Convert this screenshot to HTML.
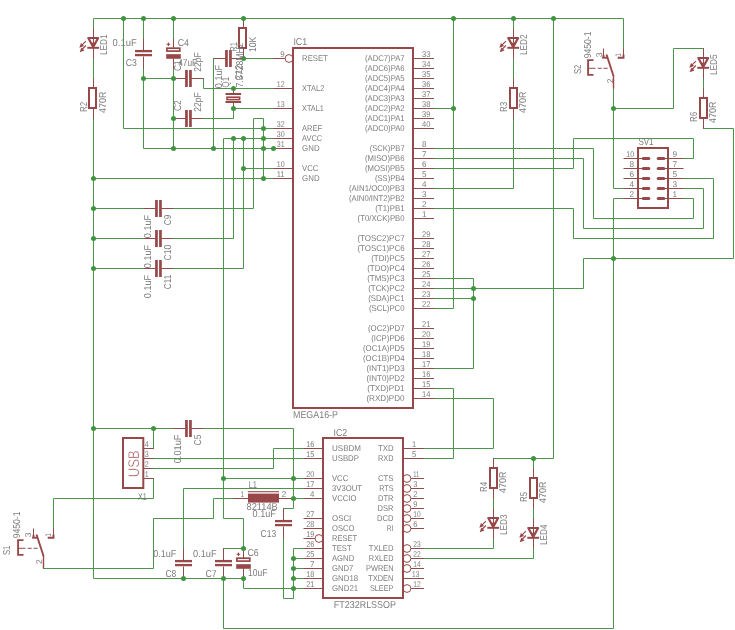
<!DOCTYPE html>
<html><head><meta charset="utf-8"><title>Schematic</title>
<style>html,body{margin:0;padding:0;background:#fff;}svg{display:block;}text{font-family:"Liberation Sans",sans-serif;}</style></head>
<body>
<svg width="735" height="630" viewBox="0 0 735 630">
<rect width="735" height="630" fill="#ffffff"/>
<g>
<g fill="none" stroke="#4c944c" stroke-width="1" stroke-linejoin="miter" stroke-linecap="square">
<polyline points="93.5,28.5 93.5,18.5 623.5,18.5 623.5,48.5"/>
<polyline points="93.5,58.5 93.5,78.5"/>
<polyline points="93.5,118.5 93.5,578.5 243.5,578.5"/>
<polyline points="123.5,18.5 123.5,128.5 273.5,128.5"/>
<polyline points="143.5,18.5 143.5,38.5"/>
<polyline points="143.5,68.5 143.5,148.5 273.5,148.5"/>
<polyline points="173.5,18.5 173.5,38.5"/>
<polyline points="173.5,68.5 173.5,148.5"/>
<polyline points="143.5,78.5 173.5,78.5"/>
<polyline points="203.5,78.5 203.5,88.5 273.5,88.5"/>
<polyline points="203.5,118.5 233.5,118.5 233.5,108.5 273.5,108.5"/>
<polyline points="213.5,58.5 213.5,148.5"/>
<polyline points="243.5,58.5 273.5,58.5"/>
<polyline points="173.5,208.5 253.5,208.5 253.5,118.5 263.5,118.5 263.5,178.5"/>
<polyline points="93.5,178.5 273.5,178.5"/>
<polyline points="93.5,208.5 143.5,208.5"/>
<polyline points="93.5,238.5 143.5,238.5"/>
<polyline points="93.5,268.5 143.5,268.5"/>
<polyline points="173.5,238.5 233.5,238.5 233.5,138.5"/>
<polyline points="173.5,268.5 243.5,268.5 243.5,138.5"/>
<polyline points="243.5,168.5 273.5,168.5"/>
<polyline points="273.5,138.5 223.5,138.5 223.5,518.5 243.5,518.5 243.5,548.5 223.5,548.5"/>
<polyline points="433.5,108.5 453.5,108.5"/>
<polyline points="453.5,18.5 453.5,308.5 433.5,308.5"/>
<polyline points="513.5,18.5 513.5,28.5"/>
<polyline points="513.5,58.5 513.5,78.5"/>
<polyline points="513.5,118.5 513.5,188.5 433.5,188.5"/>
<polyline points="553.5,18.5 553.5,458.5 493.5,458.5"/>
<polyline points="533.5,458.5 533.5,468.5"/>
<polyline points="433.5,148.5 593.5,148.5 593.5,218.5 693.5,218.5 693.5,198.5 683.5,198.5"/>
<polyline points="433.5,158.5 583.5,158.5 583.5,228.5 703.5,228.5 703.5,188.5 683.5,188.5"/>
<polyline points="433.5,168.5 573.5,168.5 573.5,138.5 693.5,138.5 693.5,158.5 683.5,158.5"/>
<polyline points="433.5,208.5 573.5,208.5 573.5,238.5 713.5,238.5 713.5,178.5 683.5,178.5"/>
<polyline points="613.5,88.5 613.5,188.5 623.5,188.5"/>
<polyline points="613.5,108.5 673.5,108.5 673.5,48.5 703.5,48.5"/>
<polyline points="703.5,78.5 703.5,88.5"/>
<polyline points="703.5,128.5 733.5,128.5 733.5,258.5 583.5,258.5 583.5,288.5 433.5,288.5"/>
<polyline points="623.5,198.5 613.5,198.5 613.5,628.5 223.5,628.5 223.5,578.5"/>
<polyline points="433.5,278.5 473.5,278.5 473.5,368.5 433.5,368.5"/>
<polyline points="433.5,298.5 473.5,298.5"/>
<polyline points="433.5,388.5 453.5,388.5 453.5,458.5 423.5,458.5"/>
<polyline points="433.5,398.5 493.5,398.5 493.5,448.5 423.5,448.5"/>
<polyline points="493.5,498.5 493.5,508.5"/>
<polyline points="493.5,538.5 493.5,548.5 423.5,548.5"/>
<polyline points="533.5,508.5 533.5,518.5"/>
<polyline points="533.5,548.5 533.5,558.5 423.5,558.5"/>
<polyline points="93.5,428.5 173.5,428.5"/>
<polyline points="153.5,428.5 153.5,448.5"/>
<polyline points="203.5,428.5 293.5,428.5 293.5,508.5 283.5,508.5"/>
<polyline points="153.5,458.5 303.5,458.5"/>
<polyline points="153.5,468.5 273.5,468.5 273.5,448.5 303.5,448.5"/>
<polyline points="153.5,478.5 153.5,498.5 53.5,498.5 53.5,528.5"/>
<polyline points="223.5,478.5 303.5,478.5"/>
<polyline points="303.5,488.5 183.5,488.5 183.5,548.5"/>
<polyline points="303.5,498.5 293.5,498.5"/>
<polyline points="233.5,498.5 213.5,498.5 213.5,518.5 153.5,518.5 153.5,568.5 43.5,568.5"/>
<polyline points="303.5,548.5 293.5,548.5 293.5,598.5 283.5,598.5 283.5,538.5"/>
<polyline points="303.5,558.5 293.5,558.5"/>
<polyline points="303.5,568.5 293.5,568.5"/>
<polyline points="303.5,578.5 293.5,578.5"/>
<polyline points="303.5,588.5 243.5,588.5 243.5,578.5"/>
</g>
<g stroke="#984848" fill="none">
<line x1="93.5" y1="28.5" x2="93.5" y2="58.5" stroke-width="1" stroke="#8e4c4c"/>
<polygon points="88.3,38 98.1,38 93.2,47.1" stroke-width="2.2" fill="none" stroke-linejoin="round"/>
<line x1="87.3" y1="47.8" x2="99.1" y2="47.8" stroke-width="2"/>
<polygon points="90.2,42.7 96.2,42.7 93.2,47.5" stroke="none" fill="#984848"/>
<line x1="85.9" y1="41.1" x2="80.9" y2="46.1" stroke-width="1.2"/>
<line x1="85.9" y1="45.5" x2="80.9" y2="50.7" stroke-width="1.2"/>
<polygon points="79.3,47.7 81,42.9 84.1,46" stroke="none" fill="#984848"/>
<polygon points="79.7,52.3 81.4,47.5 84.5,50.6" stroke="none" fill="#984848"/>
<line x1="513.5" y1="28.5" x2="513.5" y2="58.5" stroke-width="1" stroke="#8e4c4c"/>
<polygon points="508.3,38 518.1,38 513.2,47.1" stroke-width="2.2" fill="none" stroke-linejoin="round"/>
<line x1="507.3" y1="47.8" x2="519.1" y2="47.8" stroke-width="2"/>
<polygon points="510.2,42.7 516.2,42.7 513.2,47.5" stroke="none" fill="#984848"/>
<line x1="505.9" y1="41.1" x2="500.9" y2="46.1" stroke-width="1.2"/>
<line x1="505.9" y1="45.5" x2="500.9" y2="50.7" stroke-width="1.2"/>
<polygon points="499.3,47.7 501,42.9 504.1,46" stroke="none" fill="#984848"/>
<polygon points="499.7,52.3 501.4,47.5 504.5,50.6" stroke="none" fill="#984848"/>
<line x1="703.5" y1="48.5" x2="703.5" y2="78.5" stroke-width="1" stroke="#8e4c4c"/>
<polygon points="698.3,58 708.1,58 703.2,67.1" stroke-width="2.2" fill="none" stroke-linejoin="round"/>
<line x1="697.3" y1="67.8" x2="709.1" y2="67.8" stroke-width="2"/>
<polygon points="700.2,62.7 706.2,62.7 703.2,67.5" stroke="none" fill="#984848"/>
<line x1="695.9" y1="61.1" x2="690.9" y2="66.1" stroke-width="1.2"/>
<line x1="695.9" y1="65.5" x2="690.9" y2="70.7" stroke-width="1.2"/>
<polygon points="689.3,67.7 691,62.9 694.1,66" stroke="none" fill="#984848"/>
<polygon points="689.7,72.3 691.4,67.5 694.5,70.6" stroke="none" fill="#984848"/>
<line x1="493.5" y1="508.5" x2="493.5" y2="538.5" stroke-width="1" stroke="#8e4c4c"/>
<polygon points="488.3,518 498.1,518 493.2,527.1" stroke-width="2.2" fill="none" stroke-linejoin="round"/>
<line x1="487.3" y1="527.8" x2="499.1" y2="527.8" stroke-width="2"/>
<polygon points="490.2,522.7 496.2,522.7 493.2,527.5" stroke="none" fill="#984848"/>
<line x1="485.9" y1="521.1" x2="480.9" y2="526.1" stroke-width="1.2"/>
<line x1="485.9" y1="525.5" x2="480.9" y2="530.7" stroke-width="1.2"/>
<polygon points="479.3,527.7 481,522.9 484.1,526" stroke="none" fill="#984848"/>
<polygon points="479.7,532.3 481.4,527.5 484.5,530.6" stroke="none" fill="#984848"/>
<line x1="533.5" y1="518.5" x2="533.5" y2="548.5" stroke-width="1" stroke="#8e4c4c"/>
<polygon points="528.3,528 538.1,528 533.2,537.1" stroke-width="2.2" fill="none" stroke-linejoin="round"/>
<line x1="527.3" y1="537.8" x2="539.1" y2="537.8" stroke-width="2"/>
<polygon points="530.2,532.7 536.2,532.7 533.2,537.5" stroke="none" fill="#984848"/>
<line x1="525.9" y1="531.1" x2="520.9" y2="536.1" stroke-width="1.2"/>
<line x1="525.9" y1="535.5" x2="520.9" y2="540.7" stroke-width="1.2"/>
<polygon points="519.3,537.7 521,532.9 524.1,536" stroke="none" fill="#984848"/>
<polygon points="519.7,542.3 521.4,537.5 524.5,540.6" stroke="none" fill="#984848"/>
<line x1="93.5" y1="78.5" x2="93.5" y2="88.5" stroke-width="1" stroke="#8e4c4c"/>
<line x1="93.5" y1="108.5" x2="93.5" y2="118.5" stroke-width="1" stroke="#8e4c4c"/>
<rect x="89" y="88" width="7" height="20" stroke-width="2" fill="none"/>
<line x1="243.5" y1="18.5" x2="243.5" y2="28.5" stroke-width="1" stroke="#8e4c4c"/>
<line x1="243.5" y1="48.5" x2="243.5" y2="58.5" stroke-width="1" stroke="#8e4c4c"/>
<rect x="239" y="28" width="7" height="20" stroke-width="2" fill="none"/>
<line x1="513.5" y1="78.5" x2="513.5" y2="88.5" stroke-width="1" stroke="#8e4c4c"/>
<line x1="513.5" y1="108.5" x2="513.5" y2="118.5" stroke-width="1" stroke="#8e4c4c"/>
<rect x="510" y="88" width="7" height="20" stroke-width="2" fill="none"/>
<line x1="703.5" y1="88.5" x2="703.5" y2="98.5" stroke-width="1" stroke="#8e4c4c"/>
<line x1="703.5" y1="118.5" x2="703.5" y2="128.5" stroke-width="1" stroke="#8e4c4c"/>
<rect x="700" y="98" width="7" height="20" stroke-width="2" fill="none"/>
<line x1="493.5" y1="458.5" x2="493.5" y2="468.5" stroke-width="1" stroke="#8e4c4c"/>
<line x1="493.5" y1="488.5" x2="493.5" y2="498.5" stroke-width="1" stroke="#8e4c4c"/>
<rect x="490" y="468" width="7" height="20" stroke-width="2" fill="none"/>
<line x1="533.5" y1="468.5" x2="533.5" y2="478.5" stroke-width="1" stroke="#8e4c4c"/>
<line x1="533.5" y1="498.5" x2="533.5" y2="508.5" stroke-width="1" stroke="#8e4c4c"/>
<rect x="530" y="478" width="7" height="20" stroke-width="2" fill="none"/>
<line x1="143.5" y1="38.5" x2="143.5" y2="50.5" stroke-width="1" stroke="#8e4c4c"/>
<line x1="143.5" y1="56.5" x2="143.5" y2="68.5" stroke-width="1" stroke="#8e4c4c"/>
<rect x="135" y="49.95" width="17" height="2.3" stroke="none" fill="#984848"/>
<rect x="135" y="53.95" width="17" height="2.3" stroke="none" fill="#984848"/>
<line x1="173.5" y1="38.5" x2="173.5" y2="48.5" stroke-width="1" stroke="#8e4c4c"/>
<line x1="173.5" y1="58.5" x2="173.5" y2="68.5" stroke-width="1" stroke="#8e4c4c"/>
<rect x="166.9" y="48.2" width="12.9" height="2.9" stroke-width="1.7" fill="none"/>
<rect x="166.2" y="54.2" width="14.6" height="4.6" stroke="none" fill="#984848"/>
<line x1="166.6" y1="44.3" x2="170.2" y2="44.3" stroke-width="1.1"/>
<line x1="168.4" y1="42.5" x2="168.4" y2="46.1" stroke-width="1.1"/>
<line x1="173.5" y1="78.5" x2="185.5" y2="78.5" stroke-width="1" stroke="#8e4c4c"/>
<line x1="191.5" y1="78.5" x2="203.5" y2="78.5" stroke-width="1" stroke="#8e4c4c"/>
<rect x="185.1" y="70" width="2.7" height="17" stroke="none" fill="#984848"/>
<rect x="189.1" y="70" width="2.7" height="17" stroke="none" fill="#984848"/>
<line x1="173.5" y1="118.5" x2="185.5" y2="118.5" stroke-width="1" stroke="#8e4c4c"/>
<line x1="191.5" y1="118.5" x2="203.5" y2="118.5" stroke-width="1" stroke="#8e4c4c"/>
<rect x="185.1" y="110" width="2.7" height="17" stroke="none" fill="#984848"/>
<rect x="189.1" y="110" width="2.7" height="17" stroke="none" fill="#984848"/>
<line x1="213.5" y1="58.5" x2="225.5" y2="58.5" stroke-width="1" stroke="#8e4c4c"/>
<line x1="231.5" y1="58.5" x2="243.5" y2="58.5" stroke-width="1" stroke="#8e4c4c"/>
<rect x="225.1" y="50" width="2.7" height="17" stroke="none" fill="#984848"/>
<rect x="229.1" y="50" width="2.7" height="17" stroke="none" fill="#984848"/>
<line x1="143.5" y1="208.5" x2="155.5" y2="208.5" stroke-width="1" stroke="#8e4c4c"/>
<line x1="161.5" y1="208.5" x2="173.5" y2="208.5" stroke-width="1" stroke="#8e4c4c"/>
<rect x="155.1" y="200" width="2.7" height="17" stroke="none" fill="#984848"/>
<rect x="159.1" y="200" width="2.7" height="17" stroke="none" fill="#984848"/>
<line x1="143.5" y1="238.5" x2="155.5" y2="238.5" stroke-width="1" stroke="#8e4c4c"/>
<line x1="161.5" y1="238.5" x2="173.5" y2="238.5" stroke-width="1" stroke="#8e4c4c"/>
<rect x="155.1" y="230" width="2.7" height="17" stroke="none" fill="#984848"/>
<rect x="159.1" y="230" width="2.7" height="17" stroke="none" fill="#984848"/>
<line x1="143.5" y1="268.5" x2="155.5" y2="268.5" stroke-width="1" stroke="#8e4c4c"/>
<line x1="161.5" y1="268.5" x2="173.5" y2="268.5" stroke-width="1" stroke="#8e4c4c"/>
<rect x="155.1" y="260" width="2.7" height="17" stroke="none" fill="#984848"/>
<rect x="159.1" y="260" width="2.7" height="17" stroke="none" fill="#984848"/>
<line x1="173.5" y1="428.5" x2="185.5" y2="428.5" stroke-width="1" stroke="#8e4c4c"/>
<line x1="191.5" y1="428.5" x2="203.5" y2="428.5" stroke-width="1" stroke="#8e4c4c"/>
<rect x="185.1" y="420" width="2.7" height="17" stroke="none" fill="#984848"/>
<rect x="189.1" y="420" width="2.7" height="17" stroke="none" fill="#984848"/>
<line x1="183.5" y1="548.5" x2="183.5" y2="560.5" stroke-width="1" stroke="#8e4c4c"/>
<line x1="183.5" y1="566.5" x2="183.5" y2="578.5" stroke-width="1" stroke="#8e4c4c"/>
<rect x="175" y="559.95" width="17" height="2.3" stroke="none" fill="#984848"/>
<rect x="175" y="563.95" width="17" height="2.3" stroke="none" fill="#984848"/>
<line x1="223.5" y1="548.5" x2="223.5" y2="560.5" stroke-width="1" stroke="#8e4c4c"/>
<line x1="223.5" y1="566.5" x2="223.5" y2="578.5" stroke-width="1" stroke="#8e4c4c"/>
<rect x="215" y="559.95" width="17" height="2.3" stroke="none" fill="#984848"/>
<rect x="215" y="563.95" width="17" height="2.3" stroke="none" fill="#984848"/>
<line x1="243.5" y1="548.5" x2="243.5" y2="558.5" stroke-width="1" stroke="#8e4c4c"/>
<line x1="243.5" y1="568.5" x2="243.5" y2="578.5" stroke-width="1" stroke="#8e4c4c"/>
<rect x="236.9" y="558.2" width="12.9" height="2.9" stroke-width="1.7" fill="none"/>
<rect x="236.2" y="564.2" width="14.6" height="4.6" stroke="none" fill="#984848"/>
<line x1="236.6" y1="554.3" x2="240.2" y2="554.3" stroke-width="1.1"/>
<line x1="238.4" y1="552.5" x2="238.4" y2="556.1" stroke-width="1.1"/>
<line x1="283.5" y1="508.5" x2="283.5" y2="520.5" stroke-width="1" stroke="#8e4c4c"/>
<line x1="283.5" y1="526.5" x2="283.5" y2="538.5" stroke-width="1" stroke="#8e4c4c"/>
<rect x="275" y="519.95" width="17" height="2.3" stroke="none" fill="#984848"/>
<rect x="275" y="523.95" width="17" height="2.3" stroke="none" fill="#984848"/>
<line x1="233.5" y1="88.5" x2="233.5" y2="94" stroke-width="1" stroke="#8e4c4c"/>
<line x1="233.5" y1="102" x2="233.5" y2="108.5" stroke-width="1" stroke="#8e4c4c"/>
<line x1="225.5" y1="94" x2="241.1" y2="94" stroke-width="2"/>
<line x1="225.5" y1="102" x2="241.1" y2="102" stroke-width="2"/>
<rect x="227" y="97.2" width="12.6" height="2.4" stroke-width="1.6" fill="none"/>
<line x1="623.5" y1="48.5" x2="623.5" y2="55.5" stroke-width="1" stroke="#8e4c4c"/>
<polyline points="623.5,54.5 623.5,57.7 617.7,57.7" stroke-width="1.9" fill="none" stroke-linejoin="miter"/>
<line x1="603.5" y1="48.5" x2="603.5" y2="55.5" stroke-width="1" stroke="#8e4c4c"/>
<polyline points="603.5,54.7 603.5,57.7" stroke-width="1.9" fill="none" stroke-linejoin="miter"/>
<line x1="602.1" y1="57.7" x2="607.7" y2="57.7" stroke-width="1.9"/>
<line x1="606.5" y1="54.5" x2="613.5" y2="76" stroke-width="1.9"/>
<line x1="613.5" y1="75.5" x2="613.5" y2="88.5" stroke-width="1.4"/>
<polyline points="593.5,60.1 588.1,60.1 588.1,74.9 593.5,74.9" stroke-width="1.9" fill="none" stroke-linejoin="miter"/>
<line x1="588.5" y1="68.3" x2="595.5" y2="68.3" stroke-width="1" stroke="#8e4c4c"/>
<line x1="597.7" y1="68.3" x2="601.7" y2="68.3" stroke-width="1" stroke="#8e4c4c"/>
<line x1="603.5" y1="68.3" x2="607.7" y2="68.3" stroke-width="1" stroke="#8e4c4c"/>
<line x1="53.5" y1="528.5" x2="53.5" y2="535.5" stroke-width="1" stroke="#8e4c4c"/>
<polyline points="53.5,534.5 53.5,537.7 47.7,537.7" stroke-width="1.9" fill="none" stroke-linejoin="miter"/>
<line x1="33.5" y1="528.5" x2="33.5" y2="535.5" stroke-width="1" stroke="#8e4c4c"/>
<polyline points="33.5,534.7 33.5,537.7" stroke-width="1.9" fill="none" stroke-linejoin="miter"/>
<line x1="32.1" y1="537.7" x2="37.7" y2="537.7" stroke-width="1.9"/>
<line x1="36.5" y1="534.5" x2="43.5" y2="556" stroke-width="1.9"/>
<line x1="43.5" y1="555.5" x2="43.5" y2="568.5" stroke-width="1.4"/>
<polyline points="23.5,540.1 18.1,540.1 18.1,554.9 23.5,554.9" stroke-width="1.9" fill="none" stroke-linejoin="miter"/>
<line x1="18.5" y1="548.3" x2="25.5" y2="548.3" stroke-width="1" stroke="#8e4c4c"/>
<line x1="27.7" y1="548.3" x2="31.7" y2="548.3" stroke-width="1" stroke="#8e4c4c"/>
<line x1="33.5" y1="548.3" x2="37.7" y2="548.3" stroke-width="1" stroke="#8e4c4c"/>
<line x1="233.5" y1="498.5" x2="248.5" y2="498.5" stroke-width="1" stroke="#8e4c4c"/>
<line x1="278.5" y1="498.5" x2="293.5" y2="498.5" stroke-width="1" stroke="#8e4c4c"/>
<rect x="248" y="493.6" width="31" height="9" stroke="none" fill="#984848"/>
<line x1="247.8" y1="491.7" x2="279" y2="491.7" stroke-width="1.1"/>
<rect x="123" y="438" width="20.3" height="50" stroke-width="2" fill="none"/>
<line x1="143.5" y1="448.5" x2="153.5" y2="448.5" stroke-width="1" stroke="#8e4c4c"/>
<line x1="143.5" y1="458.5" x2="153.5" y2="458.5" stroke-width="1" stroke="#8e4c4c"/>
<line x1="143.5" y1="468.5" x2="153.5" y2="468.5" stroke-width="1" stroke="#8e4c4c"/>
<line x1="143.5" y1="478.5" x2="153.5" y2="478.5" stroke-width="1" stroke="#8e4c4c"/>
<rect x="638" y="148" width="30" height="60" stroke-width="2" fill="none"/>
<line x1="623.5" y1="158.5" x2="643.5" y2="158.5" stroke-width="1" stroke="#8e4c4c"/>
<line x1="663.5" y1="158.5" x2="683.5" y2="158.5" stroke-width="1" stroke="#8e4c4c"/>
<line x1="643.2" y1="158.5" x2="648.8" y2="158.5" stroke-width="3" stroke-linecap="round"/>
<line x1="658.2" y1="158.5" x2="663.8" y2="158.5" stroke-width="3" stroke-linecap="round"/>
<line x1="623.5" y1="168.5" x2="643.5" y2="168.5" stroke-width="1" stroke="#8e4c4c"/>
<line x1="663.5" y1="168.5" x2="683.5" y2="168.5" stroke-width="1" stroke="#8e4c4c"/>
<line x1="643.2" y1="168.5" x2="648.8" y2="168.5" stroke-width="3" stroke-linecap="round"/>
<line x1="658.2" y1="168.5" x2="663.8" y2="168.5" stroke-width="3" stroke-linecap="round"/>
<line x1="623.5" y1="178.5" x2="643.5" y2="178.5" stroke-width="1" stroke="#8e4c4c"/>
<line x1="663.5" y1="178.5" x2="683.5" y2="178.5" stroke-width="1" stroke="#8e4c4c"/>
<line x1="643.2" y1="178.5" x2="648.8" y2="178.5" stroke-width="3" stroke-linecap="round"/>
<line x1="658.2" y1="178.5" x2="663.8" y2="178.5" stroke-width="3" stroke-linecap="round"/>
<line x1="623.5" y1="188.5" x2="643.5" y2="188.5" stroke-width="1" stroke="#8e4c4c"/>
<line x1="663.5" y1="188.5" x2="683.5" y2="188.5" stroke-width="1" stroke="#8e4c4c"/>
<line x1="643.2" y1="188.5" x2="648.8" y2="188.5" stroke-width="3" stroke-linecap="round"/>
<line x1="658.2" y1="188.5" x2="663.8" y2="188.5" stroke-width="3" stroke-linecap="round"/>
<line x1="623.5" y1="198.5" x2="643.5" y2="198.5" stroke-width="1" stroke="#8e4c4c"/>
<line x1="663.5" y1="198.5" x2="683.5" y2="198.5" stroke-width="1" stroke="#8e4c4c"/>
<line x1="643.2" y1="198.5" x2="648.8" y2="198.5" stroke-width="3" stroke-linecap="round"/>
<line x1="658.2" y1="198.5" x2="663.8" y2="198.5" stroke-width="3" stroke-linecap="round"/>
<rect x="293" y="48" width="120" height="360" stroke-width="2" fill="none"/>
<line x1="273.5" y1="58.5" x2="285" y2="58.5" stroke-width="1" stroke="#8e4c4c"/>
<circle cx="289" cy="58.5" r="3.9" stroke-width="1.0" fill="none"/>
<line x1="273.5" y1="88.5" x2="293" y2="88.5" stroke-width="1" stroke="#8e4c4c"/>
<line x1="273.5" y1="108.5" x2="293" y2="108.5" stroke-width="1" stroke="#8e4c4c"/>
<line x1="273.5" y1="128.5" x2="293" y2="128.5" stroke-width="1" stroke="#8e4c4c"/>
<line x1="273.5" y1="138.5" x2="293" y2="138.5" stroke-width="1" stroke="#8e4c4c"/>
<line x1="273.5" y1="148.5" x2="293" y2="148.5" stroke-width="1" stroke="#8e4c4c"/>
<line x1="273.5" y1="168.5" x2="293" y2="168.5" stroke-width="1" stroke="#8e4c4c"/>
<line x1="273.5" y1="178.5" x2="293" y2="178.5" stroke-width="1" stroke="#8e4c4c"/>
<line x1="413" y1="58.5" x2="434" y2="58.5" stroke-width="1" stroke="#8e4c4c"/>
<line x1="413" y1="68.5" x2="434" y2="68.5" stroke-width="1" stroke="#8e4c4c"/>
<line x1="413" y1="78.5" x2="434" y2="78.5" stroke-width="1" stroke="#8e4c4c"/>
<line x1="413" y1="88.5" x2="434" y2="88.5" stroke-width="1" stroke="#8e4c4c"/>
<line x1="413" y1="98.5" x2="434" y2="98.5" stroke-width="1" stroke="#8e4c4c"/>
<line x1="413" y1="108.5" x2="434" y2="108.5" stroke-width="1" stroke="#8e4c4c"/>
<line x1="413" y1="118.5" x2="434" y2="118.5" stroke-width="1" stroke="#8e4c4c"/>
<line x1="413" y1="128.5" x2="434" y2="128.5" stroke-width="1" stroke="#8e4c4c"/>
<line x1="413" y1="148.5" x2="434" y2="148.5" stroke-width="1" stroke="#8e4c4c"/>
<line x1="413" y1="158.5" x2="434" y2="158.5" stroke-width="1" stroke="#8e4c4c"/>
<line x1="413" y1="168.5" x2="434" y2="168.5" stroke-width="1" stroke="#8e4c4c"/>
<line x1="413" y1="178.5" x2="434" y2="178.5" stroke-width="1" stroke="#8e4c4c"/>
<line x1="413" y1="188.5" x2="434" y2="188.5" stroke-width="1" stroke="#8e4c4c"/>
<line x1="413" y1="198.5" x2="434" y2="198.5" stroke-width="1" stroke="#8e4c4c"/>
<line x1="413" y1="208.5" x2="434" y2="208.5" stroke-width="1" stroke="#8e4c4c"/>
<line x1="413" y1="218.5" x2="434" y2="218.5" stroke-width="1" stroke="#8e4c4c"/>
<line x1="413" y1="238.5" x2="434" y2="238.5" stroke-width="1" stroke="#8e4c4c"/>
<line x1="413" y1="248.5" x2="434" y2="248.5" stroke-width="1" stroke="#8e4c4c"/>
<line x1="413" y1="258.5" x2="434" y2="258.5" stroke-width="1" stroke="#8e4c4c"/>
<line x1="413" y1="268.5" x2="434" y2="268.5" stroke-width="1" stroke="#8e4c4c"/>
<line x1="413" y1="278.5" x2="434" y2="278.5" stroke-width="1" stroke="#8e4c4c"/>
<line x1="413" y1="288.5" x2="434" y2="288.5" stroke-width="1" stroke="#8e4c4c"/>
<line x1="413" y1="298.5" x2="434" y2="298.5" stroke-width="1" stroke="#8e4c4c"/>
<line x1="413" y1="308.5" x2="434" y2="308.5" stroke-width="1" stroke="#8e4c4c"/>
<line x1="413" y1="328.5" x2="434" y2="328.5" stroke-width="1" stroke="#8e4c4c"/>
<line x1="413" y1="338.5" x2="434" y2="338.5" stroke-width="1" stroke="#8e4c4c"/>
<line x1="413" y1="348.5" x2="434" y2="348.5" stroke-width="1" stroke="#8e4c4c"/>
<line x1="413" y1="358.5" x2="434" y2="358.5" stroke-width="1" stroke="#8e4c4c"/>
<line x1="413" y1="368.5" x2="434" y2="368.5" stroke-width="1" stroke="#8e4c4c"/>
<line x1="413" y1="378.5" x2="434" y2="378.5" stroke-width="1" stroke="#8e4c4c"/>
<line x1="413" y1="388.5" x2="434" y2="388.5" stroke-width="1" stroke="#8e4c4c"/>
<line x1="413" y1="398.5" x2="434" y2="398.5" stroke-width="1" stroke="#8e4c4c"/>
<rect x="323" y="438" width="80" height="160" stroke-width="2" fill="none"/>
<line x1="303.5" y1="448.5" x2="323" y2="448.5" stroke-width="1" stroke="#8e4c4c"/>
<line x1="303.5" y1="458.5" x2="323" y2="458.5" stroke-width="1" stroke="#8e4c4c"/>
<line x1="303.5" y1="478.5" x2="323" y2="478.5" stroke-width="1" stroke="#8e4c4c"/>
<line x1="303.5" y1="488.5" x2="323" y2="488.5" stroke-width="1" stroke="#8e4c4c"/>
<line x1="303.5" y1="498.5" x2="323" y2="498.5" stroke-width="1" stroke="#8e4c4c"/>
<line x1="303.5" y1="518.5" x2="323" y2="518.5" stroke-width="1" stroke="#8e4c4c"/>
<line x1="303.5" y1="528.5" x2="323" y2="528.5" stroke-width="1" stroke="#8e4c4c"/>
<line x1="303.5" y1="538.5" x2="315" y2="538.5" stroke-width="1" stroke="#8e4c4c"/>
<circle cx="319" cy="538.5" r="3.9" stroke-width="1.0" fill="none"/>
<line x1="303.5" y1="548.5" x2="323" y2="548.5" stroke-width="1" stroke="#8e4c4c"/>
<line x1="303.5" y1="558.5" x2="323" y2="558.5" stroke-width="1" stroke="#8e4c4c"/>
<line x1="303.5" y1="568.5" x2="323" y2="568.5" stroke-width="1" stroke="#8e4c4c"/>
<line x1="303.5" y1="578.5" x2="323" y2="578.5" stroke-width="1" stroke="#8e4c4c"/>
<line x1="303.5" y1="588.5" x2="323" y2="588.5" stroke-width="1" stroke="#8e4c4c"/>
<line x1="403" y1="448.5" x2="424" y2="448.5" stroke-width="1" stroke="#8e4c4c"/>
<line x1="403" y1="458.5" x2="424" y2="458.5" stroke-width="1" stroke="#8e4c4c"/>
<line x1="411" y1="478.5" x2="424" y2="478.5" stroke-width="1" stroke="#8e4c4c"/>
<circle cx="407" cy="478.5" r="3.9" stroke-width="1.0" fill="none"/>
<line x1="411" y1="488.5" x2="424" y2="488.5" stroke-width="1" stroke="#8e4c4c"/>
<circle cx="407" cy="488.5" r="3.9" stroke-width="1.0" fill="none"/>
<line x1="411" y1="498.5" x2="424" y2="498.5" stroke-width="1" stroke="#8e4c4c"/>
<circle cx="407" cy="498.5" r="3.9" stroke-width="1.0" fill="none"/>
<line x1="411" y1="508.5" x2="424" y2="508.5" stroke-width="1" stroke="#8e4c4c"/>
<circle cx="407" cy="508.5" r="3.9" stroke-width="1.0" fill="none"/>
<line x1="411" y1="518.5" x2="424" y2="518.5" stroke-width="1" stroke="#8e4c4c"/>
<circle cx="407" cy="518.5" r="3.9" stroke-width="1.0" fill="none"/>
<line x1="411" y1="528.5" x2="424" y2="528.5" stroke-width="1" stroke="#8e4c4c"/>
<circle cx="407" cy="528.5" r="3.9" stroke-width="1.0" fill="none"/>
<line x1="411" y1="548.5" x2="424" y2="548.5" stroke-width="1" stroke="#8e4c4c"/>
<circle cx="407" cy="548.5" r="3.9" stroke-width="1.0" fill="none"/>
<line x1="411" y1="558.5" x2="424" y2="558.5" stroke-width="1" stroke="#8e4c4c"/>
<circle cx="407" cy="558.5" r="3.9" stroke-width="1.0" fill="none"/>
<line x1="411" y1="568.5" x2="424" y2="568.5" stroke-width="1" stroke="#8e4c4c"/>
<circle cx="407" cy="568.5" r="3.9" stroke-width="1.0" fill="none"/>
<line x1="403" y1="578.5" x2="424" y2="578.5" stroke-width="1" stroke="#8e4c4c"/>
<line x1="411" y1="588.5" x2="424" y2="588.5" stroke-width="1" stroke="#8e4c4c"/>
<circle cx="407" cy="588.5" r="3.9" stroke-width="1.0" fill="none"/>
</g>
<g fill="#409440" stroke="none">
<circle cx="123.5" cy="18.5" r="2.5"/>
<circle cx="143.5" cy="18.5" r="2.5"/>
<circle cx="173.5" cy="18.5" r="2.5"/>
<circle cx="243.5" cy="18.5" r="2.5"/>
<circle cx="453.5" cy="18.5" r="2.5"/>
<circle cx="513.5" cy="18.5" r="2.5"/>
<circle cx="553.5" cy="18.5" r="2.5"/>
<circle cx="143.5" cy="78.5" r="2.5"/>
<circle cx="173.5" cy="78.5" r="2.5"/>
<circle cx="173.5" cy="118.5" r="2.5"/>
<circle cx="173.5" cy="148.5" r="2.5"/>
<circle cx="213.5" cy="148.5" r="2.5"/>
<circle cx="263.5" cy="148.5" r="2.5"/>
<circle cx="273.5" cy="148.5" r="2.5"/>
<circle cx="243.5" cy="58.5" r="2.5"/>
<circle cx="233.5" cy="88.5" r="2.5"/>
<circle cx="233.5" cy="108.5" r="2.5"/>
<circle cx="263.5" cy="128.5" r="2.5"/>
<circle cx="263.5" cy="138.5" r="2.5"/>
<circle cx="233.5" cy="138.5" r="2.5"/>
<circle cx="243.5" cy="138.5" r="2.5"/>
<circle cx="243.5" cy="168.5" r="2.5"/>
<circle cx="263.5" cy="178.5" r="2.5"/>
<circle cx="93.5" cy="178.5" r="2.5"/>
<circle cx="93.5" cy="208.5" r="2.5"/>
<circle cx="93.5" cy="238.5" r="2.5"/>
<circle cx="93.5" cy="268.5" r="2.5"/>
<circle cx="93.5" cy="428.5" r="2.5"/>
<circle cx="153.5" cy="428.5" r="2.5"/>
<circle cx="223.5" cy="478.5" r="2.5"/>
<circle cx="293.5" cy="478.5" r="2.5"/>
<circle cx="293.5" cy="498.5" r="2.5"/>
<circle cx="243.5" cy="548.5" r="2.5"/>
<circle cx="183.5" cy="578.5" r="2.5"/>
<circle cx="223.5" cy="578.5" r="2.5"/>
<circle cx="243.5" cy="578.5" r="2.5"/>
<circle cx="293.5" cy="558.5" r="2.5"/>
<circle cx="293.5" cy="568.5" r="2.5"/>
<circle cx="293.5" cy="578.5" r="2.5"/>
<circle cx="293.5" cy="588.5" r="2.5"/>
<circle cx="453.5" cy="108.5" r="2.5"/>
<circle cx="613.5" cy="108.5" r="2.5"/>
<circle cx="613.5" cy="258.5" r="2.5"/>
<circle cx="473.5" cy="288.5" r="2.5"/>
<circle cx="473.5" cy="298.5" r="2.5"/>
<circle cx="533.5" cy="458.5" r="2.5"/>
</g>
<g fill="#7c7c7c" stroke="none" opacity="0.999" text-rendering="geometricPrecision">
<text x="293.4" y="45.2" font-size="10" textLength="13.8" lengthAdjust="spacingAndGlyphs">IC1</text>
<text x="293" y="417.6" font-size="10" textLength="45" lengthAdjust="spacingAndGlyphs">MEGA16-P</text>
<text x="333.6" y="435.7" font-size="10" textLength="13.6" lengthAdjust="spacingAndGlyphs">IC2</text>
<text x="333.8" y="608" font-size="10" textLength="62.2" lengthAdjust="spacingAndGlyphs">FT232RLSSOP</text>
<text x="638.4" y="145.2" font-size="10" textLength="15.2" lengthAdjust="spacingAndGlyphs">SV1</text>
<text x="138.1" y="499.7" font-size="10" textLength="8.7" lengthAdjust="spacingAndGlyphs">X1</text>
<text x="248.7" y="488.4" font-size="10" textLength="8.3" lengthAdjust="spacingAndGlyphs">L1</text>
<text x="246.5" y="510" font-size="10" textLength="31.3" lengthAdjust="spacingAndGlyphs">82114B</text>
<text x="252.6" y="516.9" font-size="10" textLength="23.2" lengthAdjust="spacingAndGlyphs">0.1uF</text>
<text x="260.6" y="536.5" font-size="10" textLength="15.6" lengthAdjust="spacingAndGlyphs">C13</text>
<text x="153.2" y="556.8" font-size="10" textLength="23.1" lengthAdjust="spacingAndGlyphs">0.1uF</text>
<text x="165.4" y="576.8" font-size="10" textLength="10.9" lengthAdjust="spacingAndGlyphs">C8</text>
<text x="193" y="556.8" font-size="10" textLength="23.6" lengthAdjust="spacingAndGlyphs">0.1uF</text>
<text x="205.4" y="576.8" font-size="10" textLength="11.2" lengthAdjust="spacingAndGlyphs">C7</text>
<text x="247.4" y="556" font-size="10" textLength="11.2" lengthAdjust="spacingAndGlyphs">C6</text>
<text x="248" y="576" font-size="10" textLength="19.3" lengthAdjust="spacingAndGlyphs">10uF</text>
<text x="112.6" y="45.9" font-size="10" textLength="24.1" lengthAdjust="spacingAndGlyphs">0.1uF</text>
<text x="125.8" y="66.2" font-size="10" textLength="11.1" lengthAdjust="spacingAndGlyphs">C3</text>
<text x="177.7" y="45.9" font-size="10" textLength="11.3" lengthAdjust="spacingAndGlyphs">C4</text>
<text x="178.2" y="66.2" font-size="10" textLength="19" lengthAdjust="spacingAndGlyphs">47uF</text>
<text x="240.6" y="497" font-size="8.3" textLength="3.6" lengthAdjust="spacingAndGlyphs">1</text>
<text x="281.4" y="497" font-size="8.3" textLength="4.8" lengthAdjust="spacingAndGlyphs">2</text>
<text transform="translate(107.1 55.1) rotate(-90)" font-size="10" textLength="20.6" lengthAdjust="spacingAndGlyphs">LED1</text>
<text transform="translate(527.1 55.1) rotate(-90)" font-size="10" textLength="20.6" lengthAdjust="spacingAndGlyphs">LED2</text>
<text transform="translate(717.1 75.1) rotate(-90)" font-size="10" textLength="20.6" lengthAdjust="spacingAndGlyphs">LED5</text>
<text transform="translate(507.1 535.1) rotate(-90)" font-size="10" textLength="20.6" lengthAdjust="spacingAndGlyphs">LED3</text>
<text transform="translate(547.1 545.1) rotate(-90)" font-size="10" textLength="20.6" lengthAdjust="spacingAndGlyphs">LED4</text>
<text transform="translate(87 111.9) rotate(-90)" font-size="10" textLength="10.2" lengthAdjust="spacingAndGlyphs">R2</text>
<text transform="translate(105.9 112.9) rotate(-90)" font-size="10" textLength="21.4" lengthAdjust="spacingAndGlyphs">470R</text>
<text transform="translate(236.9 51.8) rotate(-90)" font-size="10" textLength="9.8" lengthAdjust="spacingAndGlyphs">R1</text>
<text transform="translate(256 52) rotate(-90)" font-size="10" textLength="15.2" lengthAdjust="spacingAndGlyphs">10K</text>
<text transform="translate(507 111.9) rotate(-90)" font-size="10" textLength="10.2" lengthAdjust="spacingAndGlyphs">R3</text>
<text transform="translate(525.9 112.9) rotate(-90)" font-size="10" textLength="21.4" lengthAdjust="spacingAndGlyphs">470R</text>
<text transform="translate(697 121.9) rotate(-90)" font-size="10" textLength="10.2" lengthAdjust="spacingAndGlyphs">R6</text>
<text transform="translate(715.9 122.9) rotate(-90)" font-size="10" textLength="21.4" lengthAdjust="spacingAndGlyphs">470R</text>
<text transform="translate(487 491.9) rotate(-90)" font-size="10" textLength="10.2" lengthAdjust="spacingAndGlyphs">R4</text>
<text transform="translate(505.9 492.9) rotate(-90)" font-size="10" textLength="21.4" lengthAdjust="spacingAndGlyphs">470R</text>
<text transform="translate(527 501.9) rotate(-90)" font-size="10" textLength="10.2" lengthAdjust="spacingAndGlyphs">R5</text>
<text transform="translate(545.9 502.9) rotate(-90)" font-size="10" textLength="21.4" lengthAdjust="spacingAndGlyphs">470R</text>
<text transform="translate(180.6 71) rotate(-90)" font-size="10" textLength="10.8" lengthAdjust="spacingAndGlyphs">C1</text>
<text transform="translate(200.9 71.8) rotate(-90)" font-size="10" textLength="19.6" lengthAdjust="spacingAndGlyphs">22pF</text>
<text transform="translate(180.6 111) rotate(-90)" font-size="10" textLength="10.8" lengthAdjust="spacingAndGlyphs">C2</text>
<text transform="translate(200.9 111.8) rotate(-90)" font-size="10" textLength="19.6" lengthAdjust="spacingAndGlyphs">22pF</text>
<text transform="translate(221.6 88.2) rotate(-90)" font-size="10" textLength="23.4" lengthAdjust="spacingAndGlyphs">0.1uF</text>
<text transform="translate(241.6 80.2) rotate(-90)" font-size="10" textLength="15.4" lengthAdjust="spacingAndGlyphs">C12</text>
<text transform="translate(229.2 87.4) rotate(-90)" font-size="10" textLength="10.4" lengthAdjust="spacingAndGlyphs">Q1</text>
<text transform="translate(243.2 87.4) rotate(-90)" font-size="10" textLength="44.6" lengthAdjust="spacingAndGlyphs">7.3728MHz</text>
<text transform="translate(151.4 238.2) rotate(-90)" font-size="10" textLength="23.4" lengthAdjust="spacingAndGlyphs">0.1uF</text>
<text transform="translate(171.1 225.2) rotate(-90)" font-size="10" textLength="10.4" lengthAdjust="spacingAndGlyphs">C9</text>
<text transform="translate(151.4 268.2) rotate(-90)" font-size="10" textLength="23.4" lengthAdjust="spacingAndGlyphs">0.1uF</text>
<text transform="translate(171.1 260.4) rotate(-90)" font-size="10" textLength="15.6" lengthAdjust="spacingAndGlyphs">C10</text>
<text transform="translate(151.4 298.2) rotate(-90)" font-size="10" textLength="23.4" lengthAdjust="spacingAndGlyphs">0.1uF</text>
<text transform="translate(171.1 289.2) rotate(-90)" font-size="10" textLength="14.4" lengthAdjust="spacingAndGlyphs">C11</text>
<text transform="translate(181.4 463.3) rotate(-90)" font-size="10" textLength="28.7" lengthAdjust="spacingAndGlyphs">0.01uF</text>
<text transform="translate(201 445.4) rotate(-90)" font-size="10" textLength="10.8" lengthAdjust="spacingAndGlyphs">C5</text>
<text transform="translate(581.1 74.1) rotate(-90)" font-size="10" textLength="9.4" lengthAdjust="spacingAndGlyphs">S2</text>
<text transform="translate(591.1 58.3) rotate(-90)" font-size="10" textLength="26.8" lengthAdjust="spacingAndGlyphs">9450-1</text>
<text transform="translate(601.9 57.3) rotate(-90)" font-size="8.3" textLength="4.8" lengthAdjust="spacingAndGlyphs">3</text>
<text transform="translate(621.3 56.8) rotate(-90)" font-size="8.3" textLength="3.7" lengthAdjust="spacingAndGlyphs">1</text>
<text transform="translate(612.5 83.3) rotate(-90)" font-size="8.3" textLength="4.8" lengthAdjust="spacingAndGlyphs">2</text>
<text transform="translate(10.1 555.1) rotate(-90)" font-size="10" textLength="9.4" lengthAdjust="spacingAndGlyphs">S1</text>
<text transform="translate(20.1 538.3) rotate(-90)" font-size="10" textLength="26.8" lengthAdjust="spacingAndGlyphs">9450-1</text>
<text transform="translate(30.9 537.3) rotate(-90)" font-size="8.3" textLength="4.8" lengthAdjust="spacingAndGlyphs">3</text>
<text transform="translate(50.8 536.8) rotate(-90)" font-size="8.3" textLength="3.7" lengthAdjust="spacingAndGlyphs">1</text>
<text transform="translate(41.5 564) rotate(-90)" font-size="8.3" textLength="4.8" lengthAdjust="spacingAndGlyphs">2</text>
<text transform="translate(138.8 477.2) rotate(-90)" font-size="15.6" textLength="27" lengthAdjust="spacingAndGlyphs" fill="#984848" stroke="#ffffff" stroke-width="0.45">USB</text>
<text x="144.8" y="446.9" font-size="8.3" textLength="4" lengthAdjust="spacingAndGlyphs">4</text>
<text x="144.8" y="456.9" font-size="8.3" textLength="4" lengthAdjust="spacingAndGlyphs">3</text>
<text x="144.8" y="466.9" font-size="8.3" textLength="4" lengthAdjust="spacingAndGlyphs">2</text>
<text x="144.8" y="476.9" font-size="8.3" textLength="4" lengthAdjust="spacingAndGlyphs">1</text>
<text x="626.2" y="157" font-size="8.3" textLength="8" lengthAdjust="spacingAndGlyphs">10</text>
<text x="672.4" y="157" font-size="8.3" textLength="4.6" lengthAdjust="spacingAndGlyphs">9</text>
<text x="629.6" y="167" font-size="8.3" textLength="4.6" lengthAdjust="spacingAndGlyphs">8</text>
<text x="672.4" y="167" font-size="8.3" textLength="4.6" lengthAdjust="spacingAndGlyphs">7</text>
<text x="629.6" y="177" font-size="8.3" textLength="4.6" lengthAdjust="spacingAndGlyphs">6</text>
<text x="672.4" y="177" font-size="8.3" textLength="4.6" lengthAdjust="spacingAndGlyphs">5</text>
<text x="629.6" y="187" font-size="8.3" textLength="4.6" lengthAdjust="spacingAndGlyphs">4</text>
<text x="672.4" y="187" font-size="8.3" textLength="4.6" lengthAdjust="spacingAndGlyphs">3</text>
<text x="629.6" y="197" font-size="8.3" textLength="4.6" lengthAdjust="spacingAndGlyphs">2</text>
<text x="672.4" y="197" font-size="8.3" textLength="4.6" lengthAdjust="spacingAndGlyphs">1</text>
<text x="302.1" y="61" font-size="8.4" textLength="25.7" lengthAdjust="spacingAndGlyphs">RESET</text>
<text x="302.1" y="91" font-size="8.4" textLength="22.3" lengthAdjust="spacingAndGlyphs">XTAL2</text>
<text x="302.1" y="111" font-size="8.4" textLength="21.7" lengthAdjust="spacingAndGlyphs">XTAL1</text>
<text x="302.1" y="131" font-size="8.4" textLength="20.1" lengthAdjust="spacingAndGlyphs">AREF</text>
<text x="302.1" y="141" font-size="8.4" textLength="20.1" lengthAdjust="spacingAndGlyphs">AVCC</text>
<text x="302.1" y="151" font-size="8.4" textLength="17.5" lengthAdjust="spacingAndGlyphs">GND</text>
<text x="302.1" y="171" font-size="8.4" textLength="16.3" lengthAdjust="spacingAndGlyphs">VCC</text>
<text x="302.1" y="181" font-size="8.4" textLength="17.5" lengthAdjust="spacingAndGlyphs">GND</text>
<text x="365" y="61" font-size="8.4" textLength="39.6" lengthAdjust="spacingAndGlyphs">(ADC7)PA7</text>
<text x="365" y="71" font-size="8.4" textLength="39.6" lengthAdjust="spacingAndGlyphs">(ADC6)PA6</text>
<text x="365" y="81" font-size="8.4" textLength="39.6" lengthAdjust="spacingAndGlyphs">(ADC5)PA5</text>
<text x="365" y="91" font-size="8.4" textLength="39.6" lengthAdjust="spacingAndGlyphs">(ADC4)PA4</text>
<text x="365" y="101" font-size="8.4" textLength="39.6" lengthAdjust="spacingAndGlyphs">(ADC3)PA3</text>
<text x="365" y="111" font-size="8.4" textLength="39.6" lengthAdjust="spacingAndGlyphs">(ADC2)PA2</text>
<text x="365" y="121" font-size="8.4" textLength="39.6" lengthAdjust="spacingAndGlyphs">(ADC1)PA1</text>
<text x="365" y="131" font-size="8.4" textLength="39.6" lengthAdjust="spacingAndGlyphs">(ADC0)PA0</text>
<text x="369.8" y="151" font-size="8.4" textLength="34.8" lengthAdjust="spacingAndGlyphs">(SCK)PB7</text>
<text x="365" y="161" font-size="8.4" textLength="39.6" lengthAdjust="spacingAndGlyphs">(MISO)PB6</text>
<text x="365" y="171" font-size="8.4" textLength="39.6" lengthAdjust="spacingAndGlyphs">(MOSI)PB5</text>
<text x="375" y="181" font-size="8.4" textLength="29.6" lengthAdjust="spacingAndGlyphs">(SS)PB4</text>
<text x="349" y="191" font-size="8.4" textLength="55.6" lengthAdjust="spacingAndGlyphs">(AIN1/OC0)PB3</text>
<text x="349" y="201" font-size="8.4" textLength="55.6" lengthAdjust="spacingAndGlyphs">(AIN0/INT2)PB2</text>
<text x="375.2" y="211" font-size="8.4" textLength="29.4" lengthAdjust="spacingAndGlyphs">(T1)PB1</text>
<text x="357.6" y="221" font-size="8.4" textLength="47" lengthAdjust="spacingAndGlyphs">(T0/XCK)PB0</text>
<text x="357.4" y="241" font-size="8.4" textLength="47.2" lengthAdjust="spacingAndGlyphs">(TOSC2)PC7</text>
<text x="357.4" y="251" font-size="8.4" textLength="47.2" lengthAdjust="spacingAndGlyphs">(TOSC1)PC6</text>
<text x="371.2" y="261" font-size="8.4" textLength="33.4" lengthAdjust="spacingAndGlyphs">(TDI)PC5</text>
<text x="367.2" y="271" font-size="8.4" textLength="37.4" lengthAdjust="spacingAndGlyphs">(TDO)PC4</text>
<text x="367.2" y="281" font-size="8.4" textLength="37.4" lengthAdjust="spacingAndGlyphs">(TMS)PC3</text>
<text x="368.2" y="291" font-size="8.4" textLength="36.4" lengthAdjust="spacingAndGlyphs">(TCK)PC2</text>
<text x="368.2" y="301" font-size="8.4" textLength="36.4" lengthAdjust="spacingAndGlyphs">(SDA)PC1</text>
<text x="369" y="311" font-size="8.4" textLength="35.6" lengthAdjust="spacingAndGlyphs">(SCL)PC0</text>
<text x="368" y="331" font-size="8.4" textLength="36.6" lengthAdjust="spacingAndGlyphs">(OC2)PD7</text>
<text x="371.2" y="341" font-size="8.4" textLength="33.4" lengthAdjust="spacingAndGlyphs">(ICP)PD6</text>
<text x="363" y="351" font-size="8.4" textLength="41.6" lengthAdjust="spacingAndGlyphs">(OC1A)PD5</text>
<text x="363" y="361" font-size="8.4" textLength="41.6" lengthAdjust="spacingAndGlyphs">(OC1B)PD4</text>
<text x="366.4" y="371" font-size="8.4" textLength="38.2" lengthAdjust="spacingAndGlyphs">(INT1)PD3</text>
<text x="366.4" y="381" font-size="8.4" textLength="38.2" lengthAdjust="spacingAndGlyphs">(INT0)PD2</text>
<text x="367.2" y="391" font-size="8.4" textLength="37.4" lengthAdjust="spacingAndGlyphs">(TXD)PD1</text>
<text x="366.4" y="401" font-size="8.4" textLength="38.2" lengthAdjust="spacingAndGlyphs">(RXD)PD0</text>
<text x="280.2" y="56.8" font-size="8.3" textLength="4.4" lengthAdjust="spacingAndGlyphs">9</text>
<text x="276.7" y="86.8" font-size="8.3" textLength="7.9" lengthAdjust="spacingAndGlyphs">12</text>
<text x="276.7" y="106.8" font-size="8.3" textLength="7.9" lengthAdjust="spacingAndGlyphs">13</text>
<text x="276.7" y="126.8" font-size="8.3" textLength="7.9" lengthAdjust="spacingAndGlyphs">32</text>
<text x="276.7" y="136.8" font-size="8.3" textLength="7.9" lengthAdjust="spacingAndGlyphs">30</text>
<text x="276.7" y="146.8" font-size="8.3" textLength="7.9" lengthAdjust="spacingAndGlyphs">31</text>
<text x="276.7" y="166.8" font-size="8.3" textLength="7.9" lengthAdjust="spacingAndGlyphs">10</text>
<text x="276.7" y="176.8" font-size="8.3" textLength="7.9" lengthAdjust="spacingAndGlyphs">11</text>
<text x="422" y="56.8" font-size="8.3" textLength="8.4" lengthAdjust="spacingAndGlyphs">33</text>
<text x="422" y="66.8" font-size="8.3" textLength="8.4" lengthAdjust="spacingAndGlyphs">34</text>
<text x="422" y="76.8" font-size="8.3" textLength="8.4" lengthAdjust="spacingAndGlyphs">35</text>
<text x="422" y="86.8" font-size="8.3" textLength="8.4" lengthAdjust="spacingAndGlyphs">36</text>
<text x="422" y="96.8" font-size="8.3" textLength="8.4" lengthAdjust="spacingAndGlyphs">37</text>
<text x="422" y="106.8" font-size="8.3" textLength="8.4" lengthAdjust="spacingAndGlyphs">38</text>
<text x="422" y="116.8" font-size="8.3" textLength="8.4" lengthAdjust="spacingAndGlyphs">39</text>
<text x="422" y="126.8" font-size="8.3" textLength="8.4" lengthAdjust="spacingAndGlyphs">40</text>
<text x="422" y="146.8" font-size="8.3" textLength="4.5" lengthAdjust="spacingAndGlyphs">8</text>
<text x="422" y="156.8" font-size="8.3" textLength="4.5" lengthAdjust="spacingAndGlyphs">7</text>
<text x="422" y="166.8" font-size="8.3" textLength="4.5" lengthAdjust="spacingAndGlyphs">6</text>
<text x="422" y="176.8" font-size="8.3" textLength="4.5" lengthAdjust="spacingAndGlyphs">5</text>
<text x="422" y="186.8" font-size="8.3" textLength="4.5" lengthAdjust="spacingAndGlyphs">4</text>
<text x="422" y="196.8" font-size="8.3" textLength="4.5" lengthAdjust="spacingAndGlyphs">3</text>
<text x="422" y="206.8" font-size="8.3" textLength="4.5" lengthAdjust="spacingAndGlyphs">2</text>
<text x="422" y="216.8" font-size="8.3" textLength="4.5" lengthAdjust="spacingAndGlyphs">1</text>
<text x="422" y="236.8" font-size="8.3" textLength="8.4" lengthAdjust="spacingAndGlyphs">29</text>
<text x="422" y="246.8" font-size="8.3" textLength="8.4" lengthAdjust="spacingAndGlyphs">28</text>
<text x="422" y="256.8" font-size="8.3" textLength="8.4" lengthAdjust="spacingAndGlyphs">27</text>
<text x="422" y="266.8" font-size="8.3" textLength="8.4" lengthAdjust="spacingAndGlyphs">26</text>
<text x="422" y="276.8" font-size="8.3" textLength="8.4" lengthAdjust="spacingAndGlyphs">25</text>
<text x="422" y="286.8" font-size="8.3" textLength="8.4" lengthAdjust="spacingAndGlyphs">24</text>
<text x="422" y="296.8" font-size="8.3" textLength="8.4" lengthAdjust="spacingAndGlyphs">23</text>
<text x="422" y="306.8" font-size="8.3" textLength="8.4" lengthAdjust="spacingAndGlyphs">22</text>
<text x="422" y="326.8" font-size="8.3" textLength="8.4" lengthAdjust="spacingAndGlyphs">21</text>
<text x="422" y="336.8" font-size="8.3" textLength="8.4" lengthAdjust="spacingAndGlyphs">20</text>
<text x="422" y="346.8" font-size="8.3" textLength="8.4" lengthAdjust="spacingAndGlyphs">19</text>
<text x="422" y="356.8" font-size="8.3" textLength="8.4" lengthAdjust="spacingAndGlyphs">18</text>
<text x="422" y="366.8" font-size="8.3" textLength="8.4" lengthAdjust="spacingAndGlyphs">17</text>
<text x="422" y="376.8" font-size="8.3" textLength="8.4" lengthAdjust="spacingAndGlyphs">16</text>
<text x="422" y="386.8" font-size="8.3" textLength="8.4" lengthAdjust="spacingAndGlyphs">15</text>
<text x="422" y="396.8" font-size="8.3" textLength="8.4" lengthAdjust="spacingAndGlyphs">14</text>
<text x="332" y="451" font-size="8.4" textLength="29" lengthAdjust="spacingAndGlyphs">USBDM</text>
<text x="332" y="461" font-size="8.4" textLength="27" lengthAdjust="spacingAndGlyphs">USBDP</text>
<text x="332" y="481" font-size="8.4" textLength="16.2" lengthAdjust="spacingAndGlyphs">VCC</text>
<text x="332" y="491" font-size="8.4" textLength="30" lengthAdjust="spacingAndGlyphs">3V3OUT</text>
<text x="332" y="501" font-size="8.4" textLength="24.4" lengthAdjust="spacingAndGlyphs">VCCIO</text>
<text x="332" y="521" font-size="8.4" textLength="19.3" lengthAdjust="spacingAndGlyphs">OSCI</text>
<text x="332" y="531" font-size="8.4" textLength="22.4" lengthAdjust="spacingAndGlyphs">OSCO</text>
<text x="332" y="541" font-size="8.4" textLength="25.1" lengthAdjust="spacingAndGlyphs">RESET</text>
<text x="332" y="551" font-size="8.4" textLength="19.6" lengthAdjust="spacingAndGlyphs">TEST</text>
<text x="332" y="561" font-size="8.4" textLength="22.2" lengthAdjust="spacingAndGlyphs">AGND</text>
<text x="332" y="571" font-size="8.4" textLength="21.4" lengthAdjust="spacingAndGlyphs">GND7</text>
<text x="332" y="581" font-size="8.4" textLength="26.2" lengthAdjust="spacingAndGlyphs">GND18</text>
<text x="332" y="591" font-size="8.4" textLength="26.2" lengthAdjust="spacingAndGlyphs">GND21</text>
<text x="378" y="451" font-size="8.4" textLength="15.5" lengthAdjust="spacingAndGlyphs">TXD</text>
<text x="378" y="461" font-size="8.4" textLength="15.5" lengthAdjust="spacingAndGlyphs">RXD</text>
<text x="378" y="481" font-size="8.4" textLength="15.5" lengthAdjust="spacingAndGlyphs">CTS</text>
<text x="379.2" y="491" font-size="8.4" textLength="14.3" lengthAdjust="spacingAndGlyphs">RTS</text>
<text x="378" y="501" font-size="8.4" textLength="15.5" lengthAdjust="spacingAndGlyphs">DTR</text>
<text x="377.6" y="511" font-size="8.4" textLength="15.9" lengthAdjust="spacingAndGlyphs">DSR</text>
<text x="377" y="521" font-size="8.4" textLength="16.5" lengthAdjust="spacingAndGlyphs">DCD</text>
<text x="386.8" y="531" font-size="8.4" textLength="6.7" lengthAdjust="spacingAndGlyphs">RI</text>
<text x="368.8" y="551" font-size="8.4" textLength="24.7" lengthAdjust="spacingAndGlyphs">TXLED</text>
<text x="368.8" y="561" font-size="8.4" textLength="24.7" lengthAdjust="spacingAndGlyphs">RXLED</text>
<text x="366" y="571" font-size="8.4" textLength="27.5" lengthAdjust="spacingAndGlyphs">PWREN</text>
<text x="368.2" y="581" font-size="8.4" textLength="25.3" lengthAdjust="spacingAndGlyphs">TXDEN</text>
<text x="369.9" y="591" font-size="8.4" textLength="23.6" lengthAdjust="spacingAndGlyphs">SLEEP</text>
<text x="306.2" y="446.8" font-size="8.3" textLength="8.2" lengthAdjust="spacingAndGlyphs">16</text>
<text x="306.2" y="456.8" font-size="8.3" textLength="8.2" lengthAdjust="spacingAndGlyphs">15</text>
<text x="306.2" y="476.8" font-size="8.3" textLength="8.2" lengthAdjust="spacingAndGlyphs">20</text>
<text x="306.2" y="486.8" font-size="8.3" textLength="8.2" lengthAdjust="spacingAndGlyphs">17</text>
<text x="310" y="496.8" font-size="8.3" textLength="4.4" lengthAdjust="spacingAndGlyphs">4</text>
<text x="306.2" y="516.8" font-size="8.3" textLength="8.2" lengthAdjust="spacingAndGlyphs">27</text>
<text x="306.2" y="526.8" font-size="8.3" textLength="8.2" lengthAdjust="spacingAndGlyphs">28</text>
<text x="306.2" y="536.8" font-size="8.3" textLength="8.2" lengthAdjust="spacingAndGlyphs">19</text>
<text x="306.2" y="546.8" font-size="8.3" textLength="8.2" lengthAdjust="spacingAndGlyphs">26</text>
<text x="306.2" y="556.8" font-size="8.3" textLength="8.2" lengthAdjust="spacingAndGlyphs">25</text>
<text x="310" y="566.8" font-size="8.3" textLength="4.4" lengthAdjust="spacingAndGlyphs">7</text>
<text x="306.2" y="576.8" font-size="8.3" textLength="8.2" lengthAdjust="spacingAndGlyphs">18</text>
<text x="306.2" y="586.8" font-size="8.3" textLength="8.2" lengthAdjust="spacingAndGlyphs">21</text>
<text x="412" y="446.8" font-size="8.3" textLength="4.2" lengthAdjust="spacingAndGlyphs">1</text>
<text x="412" y="456.8" font-size="8.3" textLength="4.2" lengthAdjust="spacingAndGlyphs">5</text>
<text x="413.2" y="476.8" font-size="8.3" textLength="6" lengthAdjust="spacingAndGlyphs">11</text>
<text x="413.2" y="486.8" font-size="8.3" textLength="4.2" lengthAdjust="spacingAndGlyphs">3</text>
<text x="413.2" y="496.8" font-size="8.3" textLength="4.2" lengthAdjust="spacingAndGlyphs">2</text>
<text x="413.2" y="506.8" font-size="8.3" textLength="4.2" lengthAdjust="spacingAndGlyphs">9</text>
<text x="413.2" y="516.8" font-size="8.3" textLength="7.4" lengthAdjust="spacingAndGlyphs">10</text>
<text x="413.2" y="526.8" font-size="8.3" textLength="4.2" lengthAdjust="spacingAndGlyphs">6</text>
<text x="413.2" y="546.8" font-size="8.3" textLength="7.4" lengthAdjust="spacingAndGlyphs">23</text>
<text x="413.2" y="556.8" font-size="8.3" textLength="7.4" lengthAdjust="spacingAndGlyphs">22</text>
<text x="413.2" y="566.8" font-size="8.3" textLength="7.4" lengthAdjust="spacingAndGlyphs">14</text>
<text x="412" y="576.8" font-size="8.3" textLength="7.4" lengthAdjust="spacingAndGlyphs">13</text>
<text x="413.2" y="586.8" font-size="8.3" textLength="7.4" lengthAdjust="spacingAndGlyphs">12</text>
</g>
</g>
</svg>
</body></html>
